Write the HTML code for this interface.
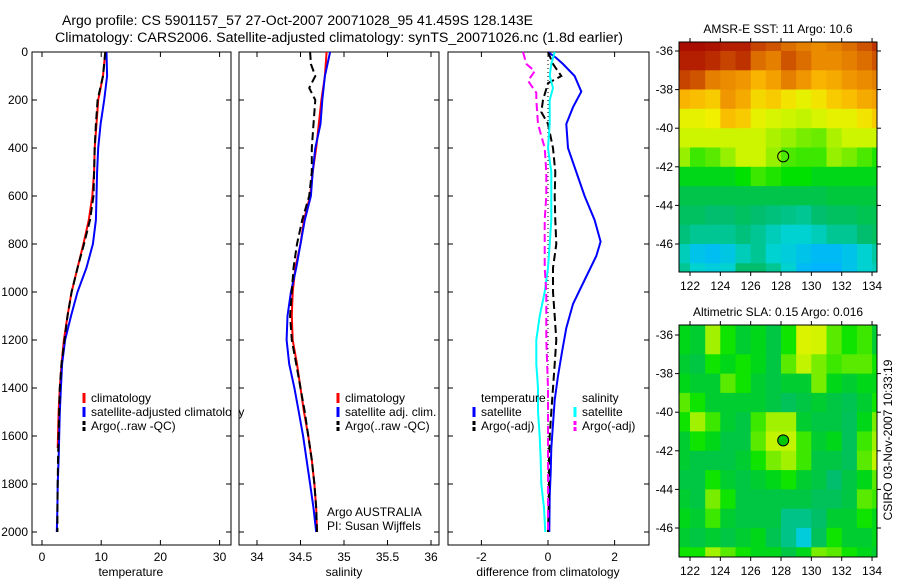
<!DOCTYPE html>
<html><head><meta charset="utf-8"><style>
body{margin:0;background:#fff;}
svg{display:block;font-family:"Liberation Sans",sans-serif;}
</style></head><body>
<svg id="c" width="900" height="580" xmlns="http://www.w3.org/2000/svg">
<text x="62" y="25" font-size="13.5" textLength="471" lengthAdjust="spacingAndGlyphs">Argo profile: CS 5901157_57 27-Oct-2007 20071028_95 41.459S 128.143E</text>
<text x="55" y="42" font-size="13.5" textLength="568" lengthAdjust="spacingAndGlyphs">Climatology: CARS2006. Satellite-adjusted climatology: synTS_20071026.nc (1.8d earlier)</text>
<g id="g"></g>
</svg>
<script>
// ---- Data ----
const depthStd=[0,100,200,300,400,500,600,700,800,900,1000,1100,1200,1300,1400,1500,1600,1700,1800,1900,2000];
const tempClimDepth=[0,100,200,300,400,500,600,700,800,900,1000,1100,1200,1300,1400,1500,1600,1650];
const tempClim=[10.7,10.3,9.5,9.2,8.9,8.8,8.5,7.9,7.0,6.0,5.0,4.3,3.7,3.3,3.0,2.8,2.7,2.65];
const tempSat=[10.9,11.0,10.5,9.9,9.5,9.3,9.2,9.1,8.6,7.5,6.0,4.9,3.9,3.4,3.2,3.0,2.9,2.8,2.65,2.6,2.5];
const tempArgo=[10.7,10.3,9.4,9.1,8.9,8.8,8.7,8.1,7.1,6.0,5.0,4.3,3.8,3.3,3.0,2.9,2.8,2.7,2.65,2.6,2.6];
const salClim=[34.80,34.78,34.74,34.71,34.68,34.64,34.61,34.54,34.50,34.44,34.41,34.40,34.41,34.46,34.50,34.54,34.59,34.63,34.66,34.68,34.69];
const salSat=[34.84,34.78,34.75,34.73,34.67,34.64,34.62,34.55,34.50,34.45,34.39,34.35,34.34,34.37,34.43,34.48,34.53,34.57,34.61,34.65,34.68];
const salArgoDepth=[0,50,100,150,200,300,400,500,600,700,800,900,1000,1100,1200,1300,1400,1500,1600,1700,1800,1900,2000];
const salArgo=[34.61,34.62,34.67,34.60,34.67,34.65,34.63,34.63,34.60,34.52,34.46,34.42,34.40,34.38,34.40,34.45,34.50,34.55,34.59,34.63,34.66,34.68,34.69];
const dTSatDepth=[0,25,50,100,165,230,300,400,500,600,700,790,850,950,1050,1150,1250,1350,1450,1550,1650,1750,1850,2000];
const dTSat=[0,0.25,0.45,0.8,1.0,0.75,0.55,0.6,0.85,1.1,1.4,1.58,1.45,1.1,0.75,0.55,0.42,0.3,0.2,0.15,0.1,0.08,0.05,0.04];
const dTArgoDepth=[0,50,100,130,200,250,300,400,500,600,700,800,900,1000,1100,1200,1300,1400,1500,1600,1700,1800,1900,2000];
const dTArgo=[0,0.15,0.4,0,-0.15,-0.2,0,0.15,0.22,0.2,0.22,0.25,0.15,0.15,0.2,0.25,0.2,0.15,0.1,0.05,0.03,0.03,0.02,0];
const dSSatDepth=[0,50,100,150,200,300,400,500,600,700,800,900,1000,1100,1200,1300,1400,1500,1600,1700,1800,1900,2000];
const dSSat=[0.2,0.1,0.05,0.15,0.05,0.05,0,0.1,0.1,0.1,0.05,0,-0.1,-0.25,-0.35,-0.35,-0.3,-0.3,-0.25,-0.22,-0.2,-0.12,-0.08];
const dSArgoDepth=[0,50,80,120,170,200,300,400,500,600,700,800,900,1000,1100,1200,1400,1600,1800,2000];
const dSArgo=[-0.75,-0.65,-0.4,-0.6,-0.35,-0.35,-0.3,-0.1,-0.05,-0.05,-0.1,-0.1,-0.1,-0.05,-0.05,-0.05,0,0,0,0];
const depthTicks=[0,200,400,600,800,1000,1200,1400,1600,1800,2000];
const tempTicks=[0,10,20,30];
const salTicks=[34,34.5,35,35.5,36];
const diffTicks=[-2,0,2];
const lonTicks=[122,124,126,128,130,132,134];
const latTicks=[-36,-38,-40,-42,-44,-46];
const mapLons=[121.5,122.5,123.5,124.5,125.5,126.5,127.5,128.5,129.5,130.5,131.5,132.5,133.5,134.5];
const mapLats=[-35.5,-36.5,-37.5,-38.5,-39.5,-40.5,-41.5,-42.5,-43.5,-44.5,-45.5,-46.5,-47.5];
const sst=[
[0.98,0.98,0.97,0.95,0.95,0.9,0.88,0.85,0.82,0.8,0.82,0.85,0.88,0.92],
[0.95,0.95,0.93,0.9,0.92,0.85,0.82,0.88,0.85,0.8,0.8,0.82,0.85,0.88],
[0.9,0.88,0.82,0.8,0.78,0.72,0.76,0.82,0.78,0.72,0.74,0.78,0.8,0.82],
[0.72,0.7,0.68,0.78,0.74,0.66,0.68,0.64,0.6,0.64,0.68,0.7,0.74,0.76],
[0.6,0.6,0.62,0.7,0.68,0.6,0.57,0.55,0.54,0.57,0.6,0.6,0.64,0.68],
[0.55,0.55,0.55,0.55,0.55,0.55,0.52,0.5,0.48,0.47,0.52,0.55,0.55,0.55],
[0.5,0.44,0.46,0.5,0.55,0.55,0.5,0.45,0.44,0.44,0.5,0.48,0.45,0.42],
[0.38,0.38,0.38,0.38,0.4,0.44,0.42,0.4,0.4,0.38,0.38,0.38,0.38,0.38],
[0.33,0.33,0.33,0.33,0.33,0.33,0.33,0.33,0.33,0.33,0.35,0.35,0.35,0.35],
[0.3,0.3,0.28,0.28,0.3,0.28,0.27,0.26,0.25,0.28,0.3,0.3,0.32,0.32],
[0.27,0.25,0.25,0.25,0.27,0.25,0.22,0.2,0.2,0.22,0.25,0.25,0.28,0.3],
[0.22,0.15,0.13,0.16,0.22,0.25,0.2,0.18,0.15,0.12,0.12,0.15,0.2,0.24],
[0.25,0.2,0.18,0.2,0.28,0.28,0.25,0.2,0.12,0.1,0.1,0.15,0.2,0.22]];
const sla=[
[0.42,0.4,0.55,0.45,0.4,0.42,0.38,0.45,0.62,0.6,0.5,0.45,0.48,0.4],
[0.42,0.4,0.55,0.45,0.4,0.42,0.38,0.45,0.62,0.6,0.5,0.45,0.48,0.4],
[0.4,0.38,0.45,0.42,0.45,0.42,0.38,0.5,0.58,0.52,0.48,0.5,0.5,0.45],
[0.42,0.4,0.4,0.5,0.45,0.4,0.38,0.4,0.4,0.52,0.42,0.4,0.42,0.42],
[0.5,0.45,0.4,0.4,0.4,0.4,0.38,0.35,0.38,0.4,0.38,0.36,0.4,0.45],
[0.45,0.55,0.48,0.4,0.38,0.48,0.55,0.55,0.4,0.38,0.38,0.35,0.42,0.52],
[0.4,0.45,0.42,0.38,0.38,0.5,0.58,0.58,0.48,0.4,0.42,0.35,0.48,0.55],
[0.4,0.38,0.38,0.38,0.4,0.45,0.52,0.55,0.48,0.38,0.38,0.35,0.5,0.58],
[0.38,0.38,0.45,0.4,0.38,0.4,0.42,0.45,0.4,0.38,0.32,0.38,0.42,0.5],
[0.4,0.38,0.52,0.45,0.38,0.38,0.38,0.38,0.38,0.35,0.35,0.38,0.5,0.48],
[0.42,0.4,0.48,0.4,0.38,0.38,0.38,0.3,0.3,0.33,0.4,0.4,0.45,0.42],
[0.4,0.38,0.4,0.38,0.4,0.42,0.36,0.3,0.22,0.35,0.45,0.4,0.4,0.42],
[0.45,0.45,0.55,0.5,0.45,0.42,0.42,0.38,0.42,0.52,0.5,0.45,0.42,0.4]];
const argoLon=128.143, argoLat=-41.459;

// ---- Drawing ----
const NS='http://www.w3.org/2000/svg';
const G=document.getElementById('g');
function el(tag,attrs,parent){const e=document.createElementNS(NS,tag);for(const k in attrs)e.setAttribute(k,attrs[k]);(parent||G).appendChild(e);return e;}
function txt(x,y,s,size,anchor,parent){const t=el('text',{x:x,y:y,'font-size':size||12,'text-anchor':anchor||'start'},parent);t.textContent=s;return t;}
const yD=d=>52+d*0.24;
const FT=52,FB=545;

function panel(name,x0,x1,xs,ticks,fmt,xlabel,showY){
  const g=el('g',{});
  
  
  const f=el('rect',{x:x0,y:FT,width:x1-x0,height:FB-FT,fill:'none',stroke:'#000','stroke-width':1},g);
  
  
  ticks.forEach(v=>{const x=xs(v);el('line',{x1:x,x2:x,y1:FB,y2:FB-5,stroke:'#000'},g);el('line',{x1:x,x2:x,y1:FT,y2:FT+5,stroke:'#000'},g);
    const t=txt(x,561,fmt(v),12,'middle',g);
    
    });
  depthTicks.forEach(d=>{const y=yD(d);el('line',{x1:x0,x2:x0+5,y1:y,y2:y,stroke:'#000'},g);el('line',{x1:x1,x2:x1-5,y1:y,y2:y,stroke:'#000'},g);
    if(showY){const t=txt(28,y+4,String(d),12,'end',g);
    
    }});
  const xl=txt((xs(ticks[0])+xs(ticks[ticks.length-1]))/2,576,xlabel,12,'middle',g);
  
  
  return g;
}
function series(name,xs,depths,vals,color,dash,w){
  const pts=vals.map((v,i)=>xs(v).toFixed(1)+','+yD(depths[i]).toFixed(1)).join(' ');
  const p=el('polyline',{points:pts,fill:'none',stroke:color,'stroke-width':w||2,'stroke-dasharray':dash||'none'});
  
  
}
function legend(name,x,y,color,dash,label){
  const l=el('line',{x1:x,x2:x,y1:y-9,y2:y+1,stroke:color,'stroke-width':3,'stroke-dasharray':dash?'4,2':'none'});
  
  
  const t=txt(x+7,y,label,12);
  
  
}

// Temperature
const xT=v=>42+v*5.92;
panel('temperature-panel',32,231,xT,tempTicks,String,'temperature',true);
series('temp-climatology-line',xT,tempClimDepth,tempClim,'#f00');
series('temp-satellite-line',xT,depthStd,tempSat,'#00f');
series('temp-argo-line',xT,depthStd,tempArgo,'#000','8,4');
legend('legend-climatology',84,402,'#f00',false,'climatology');
legend('legend-satellite-adjusted',84,416,'#00f',false,'satellite-adjusted climatology');
legend('legend-argo',84,430,'#000',true,'Argo(..raw -QC)');
el('rect',{x:232,y:405,width:7,height:15,fill:'#fff'});

// Salinity
const xS=v=>257+(v-34)*87;
panel('salinity-panel',239,439,xS,salTicks,v=>String(v),'salinity',false);
series('sal-climatology-line',xS,depthStd,salClim,'#f00');
series('sal-satellite-line',xS,depthStd,salSat,'#00f');
series('sal-argo-line',xS,salArgoDepth,salArgo,'#000','8,4');
legend('legend-sal-climatology',338,402,'#f00',false,'climatology');
legend('legend-sal-satellite',338,416,'#00f',false,'satellite adj. clim.');
legend('legend-sal-argo',338,430,'#000',true,'Argo(..raw -QC)');
let t1=txt(327,516,'Argo AUSTRALIA',12);
let t2=txt(327,530,'PI: Susan Wijffels',12);

// Difference
const xDf=v=>548+v*33.3;
panel('difference-panel',448,649,xDf,diffTicks,String,'difference from climatology',false);
el('line',{x1:xDf(0),x2:xDf(0),y1:FT,y2:yD(2000),stroke:'#000','stroke-dasharray':'1,3'});
series('diff-temp-satellite-line',xDf,dTSatDepth,dTSat,'#00f');
series('diff-temp-argo-line',xDf,dTArgoDepth,dTArgo,'#000','8,4');
series('diff-sal-satellite-line',xDf,dSSatDepth,dSSat,'#0ff');
series('diff-sal-argo-line',xDf,dSArgoDepth,dSArgo,'#f0f','8,4');
let t3=txt(481,402,'temperature',12);
let t4=txt(582,402,'salinity',12);
legend('legend-diff-temp-satellite',474,416,'#00f',false,'satellite');
legend('legend-diff-temp-argo',474,430,'#000',true,'Argo(-adj)');
legend('legend-diff-sal-satellite',575,416,'#0ff',false,'satellite');
legend('legend-diff-sal-argo',575,430,'#f0f',true,'Argo(-adj)');

// Maps
const stops=[[0.1,[0,180,255]],[0.2,[0,210,210]],[0.28,[0,190,110]],[0.35,[0,200,60]],[0.4,[0,225,0]],[0.5,[150,240,0]],[0.55,[205,245,0]],[0.62,[240,240,0]],[0.7,[250,190,0]],[0.78,[240,150,0]],[0.85,[220,110,0]],[0.92,[190,50,0]],[1,[160,0,0]]];
function cmap(v){if(v<=stops[0][0])return 'rgb('+stops[0][1]+')';for(let i=1;i<stops.length;i++){if(v<=stops[i][0]){const a=stops[i-1],b=stops[i],f=(v-a[0])/(b[0]-a[0]);return 'rgb('+a[1].map((c,k)=>Math.round(c+(b[1][k]-c)*f)).join(',')+')';}}return 'rgb(160,0,0)';}
function map(name,title,top,bottom,lat36,lat46,grid,fillDot,shift){
  const x0=679,x1=877;
  const xL=lon=>690+(lon-122)*15.17;
  const yL=lat=>lat36+(-36-lat)*(lat46-lat36)/10;
  const g=el('g',{});
  
  
  const cid='clip-'+name;
  const cp=el('clipPath',{id:cid},g);el('rect',{x:x0,y:top,width:x1-x0,height:bottom-top},cp);
  const cg=el('g',{'clip-path':'url(#'+cid+')'},g);
  grid.forEach((row,r)=>row.forEach((v,c)=>{
    const cx=xL(mapLons[c]),cy=yL(mapLats[r]);
    const cell=el('rect',{x:(cx-7.6).toFixed(1),y:(cy-9.7).toFixed(1),width:15.9,height:20,fill:cmap(v+shift)},cg);
    
    
  }));
  el('rect',{x:x0,y:top,width:x1-x0,height:bottom-top,fill:'none',stroke:'#000'},g);
  const dot=el('circle',{cx:xL(argoLon),cy:yL(argoLat),r:5.5,fill:fillDot?'#00c800':'none',stroke:'#000','stroke-width':1},g);
  
  
  lonTicks.forEach(l=>{const x=xL(l);el('line',{x1:x,x2:x,y1:bottom,y2:bottom+4,stroke:'#000'},g);el('line',{x1:x,x2:x,y1:top,y2:top-4,stroke:'#000'},g);
    const t=txt(x,bottom+18,String(l),12,'middle',g);});
  latTicks.forEach(l=>{const y=yL(l);el('line',{x1:x0,x2:x0-4,y1:y,y2:y,stroke:'#000'},g);el('line',{x1:x1,x2:x1+4,y1:y,y2:y,stroke:'#000'},g);
    const t=txt(673,y+4,String(l),12,'end',g);});
  const tt=txt(778,top-9,title,12,'middle',g);
}
map('sst-map','AMSR-E SST: 11 Argo: 10.6',42,272,51,244,sst,false,0);
map('sla-map','Altimetric SLA: 0.15 Argo: 0.016',325,557,335,528,sla,true,-0.04);
const cs=txt(0,0,'CSIRO 03-Nov-2007 10:33:19',12,'middle');
cs.setAttribute('transform','translate(892,440) rotate(-90)');


</script>
</body></html>
